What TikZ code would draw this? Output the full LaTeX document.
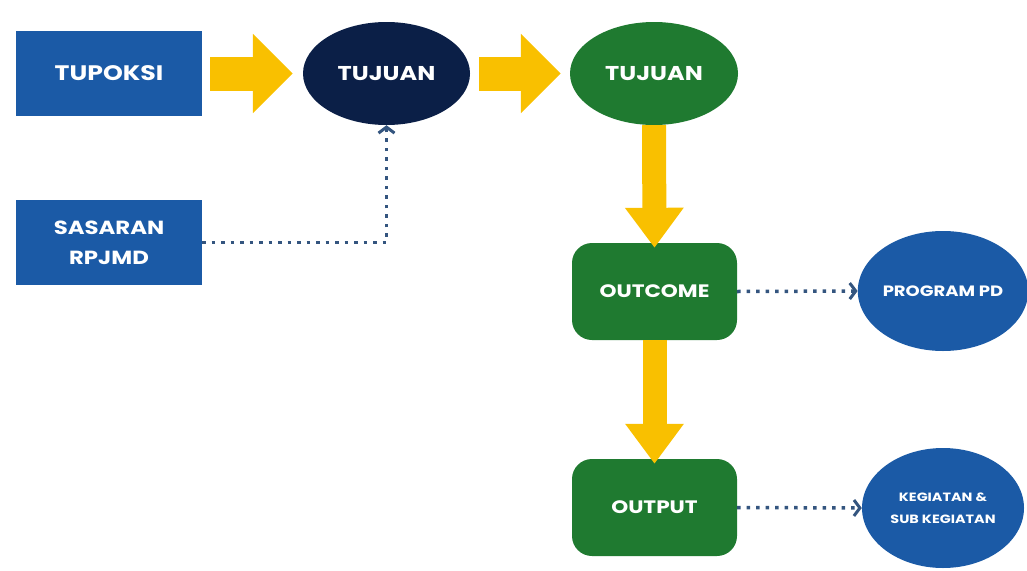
\documentclass[tikz,border=0pt]{standalone}
\usepackage{fontspec}
\setmainfont{Poppins}[FakeStretch=1.2]
\usetikzlibrary{arrows.meta,shapes.geometric}
\definecolor{boxblue}{HTML}{1B5AA6}
\definecolor{navy}{HTML}{0B1F47}
\definecolor{dgreen}{HTML}{1F7A30}
\definecolor{ygold}{HTML}{F9C000}
\definecolor{dotblue}{HTML}{34557F}
\tikzset{
  sqbox/.style={fill=boxblue, text=white, font=\bfseries\fontsize{19}{30}\selectfont, minimum width=186pt, minimum height=85pt, inner sep=0pt, align=center},
  ellnode/.style={ellipse, text=white, font=\bfseries\fontsize{20}{22}\selectfont, inner sep=0pt, align=center},
  rbox/.style={fill=dgreen, rounded corners=20pt, text=white, font=\bfseries\fontsize{18}{22}\selectfont, minimum width=165pt, minimum height=97pt, inner sep=0pt},
  yarrow/.style={draw=ygold, line width=34pt, -{Triangle[length=40pt,width=77pt]}},
  yarrowv/.style={draw=ygold, line width=24pt, -{Triangle[length=40pt,width=56pt]}},
  dotline/.style={draw=dotblue, line width=3.5pt, dash pattern=on 3.5pt off 6pt, -{Straight Barb[length=6pt,width=16pt,line width=3pt, sep=0pt]}},
}
\begin{document}
\begin{tikzpicture}[x=1pt,y=-1pt]
\useasboundingbox (0,0) rectangle (1027,570);
\node[sqbox, font=\bfseries\fontsize{21}{30}\selectfont] (tupoksi) at (109,73.5) {TUPOKSI};
\node[sqbox] (sasaran) at (109,242.5) {SASARAN\\RPJMD};
\node[ellnode, fill=navy, minimum width=167pt, minimum height=103pt] (tuj1) at (386.5,73.5) {TUJUAN};
\node[ellnode, fill=dgreen, minimum width=168pt, minimum height=103pt] (tuj2) at (654,73.5) {TUJUAN};
\node[rbox] (outcome) at (654.5,291.5) {OUTCOME};
\node[rbox] (output) at (654.5,507.5) {OUTPUT};
\node[ellnode, fill=boxblue, minimum width=162pt, minimum height=120pt, font=\bfseries\fontsize{15}{16}\selectfont] (program) at (943,291) {PROGRAM PD};
\node[ellnode, fill=boxblue, minimum width=162pt, minimum height=120pt, font=\bfseries\fontsize{12}{22}\selectfont] (kegiatan) at (943,508) {KEGIATAN \&\\SUB KEGIATAN};
\draw[yarrow] ([xshift=8pt]tupoksi.east) -- ([xshift=-10pt]tuj1.west);
\draw[yarrow] ([xshift=9pt]tuj1.east) -- ([xshift=-9pt]tuj2.west);
\draw[yarrowv] (tuj2.south) -- ([yshift=-5pt]outcome.north);
\draw[yarrowv] (outcome.south) -- ([yshift=-5pt]output.north);
\draw[dotline] (sasaran.east) -| (tuj1.south);
\draw[dotline] (outcome.east) -- (program.west);
\draw[dotline] (output.east) -- (kegiatan.west);
\end{tikzpicture}
\end{document}
